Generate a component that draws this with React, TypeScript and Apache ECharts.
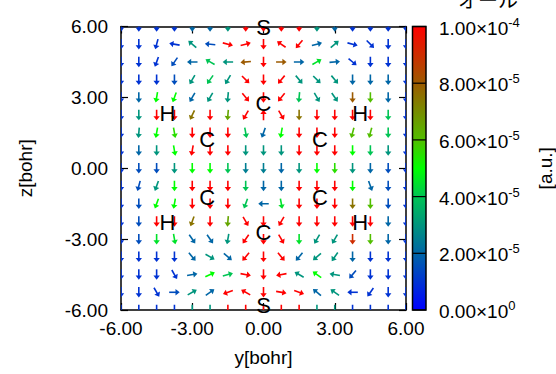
import React, { useEffect, useRef } from "react";
import * as echarts from "echarts";

// grid sample coordinates (bohr)
const yCoords = [-6, -5.25, -4.5, -3.75, -3, -2.25, -1.5, -0.75, 0, 0.75, 1.5, 2.25, 3, 3.75, 4.5, 5.25, 6];
const zCoords = [6, 5.25, 4.5, 3.75, 3, 2.25, 1.5, 0.75, 0, -0.75, -1.5, -2.25, -3, -3.75, -4.5, -5.25, -6];

// arrow direction in degrees (0 = +y, 90 = +z), rows top (z=6) to bottom (z=-6)
const angleRows = [
  [-90, -90, -90, -90, -90, -90, -90, -90, -90, -90, -90, -90, -90, -90, -90, -90, -90],
  [-90, -90, -105, 170, 140, 175, -15, 15, -90, 145, -130, 15, 40, -15, -45, -90, -90],
  [-90, -90, -110, -125, 180, 150, 180, -175, -90, 0, 0, 30, 5, -40, -90, -90, -90],
  [-90, -90, -90, -90, -120, -125, -120, -45, -90, -130, -50, -45, -50, -90, -90, -90, -90],
  [-90, -90, -100, -110, -120, -120, -95, -50, -90, -130, -95, -60, -55, -90, -90, -90, -90],
  [-90, -90, -90, -90, -115, -90, -95, -120, 90, -60, -90, -90, -90, -90, -90, -90, -90],
  [-90, -95, -100, -80, -90, -90, -90, -80, -110, -100, -90, -90, -90, -105, -105, -90, -90],
  [-90, -90, -90, -80, -100, -90, -90, -90, -90, -90, -90, -90, -90, -90, -90, -90, -90],
  [-90, -90, -90, -90, -90, -90, -90, -90, -90, -90, -90, -90, -90, -90, -90, -90, -90],
  [-90, -105, -110, -90, -90, -90, -90, -90, -90, -90, -90, -90, -90, -90, -70, -90, -90],
  [-90, -90, -110, -100, -90, -90, -90, -110, 180, -80, -90, -90, -90, -90, -90, -90, -90],
  [-90, -90, -90, -90, -110, -90, -95, -60, -90, -120, -90, -90, -90, -90, -90, -90, -90],
  [-90, -90, -90, -80, -55, -55, -100, -125, -90, -60, -90, -120, -120, -90, -90, -90, -90],
  [-90, -90, -90, -90, -50, -30, -40, -130, -90, -50, -130, -140, -125, -90, -90, -90, -90],
  [-90, -90, -90, -60, 10, 25, 15, -10, -90, -170, 150, 145, 170, -130, -90, -90, -90],
  [-90, -90, -60, 0, 30, 35, -160, 150, -90, -10, -20, 140, 145, 180, -125, -90, -90],
  [-90, -90, -90, -90, -90, -90, -90, -90, -90, -90, -90, -90, -90, -90, -90, -90, -90],
];

// magnitude in units of 1e-5 a.u., same layout
const magRows = [
  [1, 1, 1, 1, 2, 2, 3, 11, 11, 11, 11, 3, 2, 1, 1, 1, 1],
  [1, 1, 1, 1, 3, 1.5, 11, 11, 11, 11, 11, 2, 3, 1, 1, 1, 1],
  [1, 1, 1, 1.5, 2, 4, 3, 8, 11, 8, 2, 4.5, 2, 1, 1, 1, 1],
  [1, 1, 1, 1.5, 3, 4, 3, 11, 11, 11, 3, 3, 3, 2, 2, 2, 1],
  [1, 2, 5, 5, 2, 3, 3, 11, 11, 11, 4, 3, 3, 8, 6, 2, 1],
  [1, 3, 11, 11, 7.5, 11, 6.5, 11, 11, 11, 7.5, 11, 11, 11, 11, 4, 1],
  [1, 3, 5, 5.5, 11, 11, 11, 4, 2, 5, 11, 11, 11, 6, 6, 4, 1],
  [1, 2, 3, 5, 11, 11, 11, 3, 3, 3, 11, 11, 11, 5, 4, 3, 1],
  [1, 1.5, 1.5, 3, 5, 5, 4, 2.5, 2.5, 2, 3, 5, 5.5, 3, 2, 1.5, 1],
  [1, 1.5, 3, 5, 11, 11, 11, 4, 2, 2, 11, 11, 11, 5, 2, 1.5, 1],
  [1, 1.5, 5, 5, 11, 11, 11, 4, 2, 4.5, 11, 11, 11, 7.5, 6, 1.5, 1],
  [1, 1.5, 11, 11, 7.5, 11, 6.5, 11, 11, 11, 11, 11, 11, 11, 11, 2, 1],
  [1, 1.5, 4.5, 4.5, 2, 2, 3, 11, 11, 11, 4.5, 3, 3, 9, 6, 2, 1],
  [1, 1, 1, 1, 2, 3, 2, 11, 11, 11, 2, 3, 3, 2, 1, 1, 1],
  [1, 1, 1, 1, 2, 5, 4, 11, 11, 11, 3, 5, 3, 1.5, 1, 1, 1],
  [1, 1, 1, 1.5, 3, 2, 11, 11, 11, 11, 11, 2, 3, 1, 1, 1, 1],
  [1, 1, 1, 1, 3, 3, 11, 11, 11, 11, 11, 3, 3, 1, 1, 1, 1],
];

// atom labels
const atomNames = ["S", "S", "C", "C", "C", "C", "C", "C", "H", "H", "H", "H"];
const atomY = [0, 0, 0, 0, -2.37, 2.38, -2.37, 2.38, -4.05, 4.07, -4.05, 4.07];
const atomZ = [5.95, -5.8, 2.75, -2.7, 1.2, 1.2, -1.25, -1.25, 2.33, 2.33, -2.28, -2.28];

// colour bar
const cbMax = 1e-4;
const cbTicks = [0, 2e-5, 4e-5, 6e-5, 8e-5, 1e-4];
const cmapStops: [number, string][] = [
  [0, "#0000ff"],
  [0.2, "#0066a6"],
  [0.4, "#00c454"],
  [0.5, "#00ff00"],
  [0.6, "#52be00"],
  [0.8, "#9c5a00"],
  [1, "#ff0000"],
];

const FONT = "'Liberation Sans', Arial, Helvetica, sans-serif";

function hexToRgb(h: string) {
  return [parseInt(h.slice(1, 3), 16), parseInt(h.slice(3, 5), 16), parseInt(h.slice(5, 7), 16)];
}
function cmap(t: number) {
  t = Math.max(0, Math.min(1, t));
  for (let i = 1; i < cmapStops.length; i++) {
    const [t1, c1] = cmapStops[i];
    const [t0, c0] = cmapStops[i - 1];
    if (t <= t1) {
      const f = (t - t0) / (t1 - t0);
      const a = hexToRgb(c0), b = hexToRgb(c1);
      const r = a.map((v, k) => Math.round(v + (b[k] - v) * f));
      return `rgb(${r[0]},${r[1]},${r[2]})`;
    }
  }
  return cmapStops[cmapStops.length - 1][1];
}

export default function App() {
  const ref = useRef<HTMLDivElement>(null);
  useEffect(() => {
    if (!ref.current) return;
    const chart = echarts.init(ref.current, undefined, { renderer: "svg" });

    const arrowData: number[][] = [];
    zCoords.forEach((z, r) => {
      yCoords.forEach((y, c) => {
        arrowData.push([y, z, angleRows[r][c], magRows[r][c] * 1e-5]);
      });
    });
    const atomData = atomNames.map((n, i) => [atomY[i], atomZ[i], i]);

    const mainAxisCommon = {
      type: "value" as const,
      min: -6,
      max: 6,
      interval: 3,
      splitLine: { show: false },
      axisLine: { show: true, onZero: false, lineStyle: { color: "#000", width: 1.5 } },
      axisTick: { show: true, inside: true, length: 7, lineStyle: { color: "#000", width: 1.2 } },
    };

    const fmtSci = (v: number) => {
      const s = v.toExponential(2);
      const [m, e] = s.split("e");
      return `{m|${m}×10}{s|${parseInt(e, 10)}}`;
    };

    chart.setOption({
      animation: false,
      backgroundColor: "#fff",
      textStyle: { fontFamily: FONT },
      grid: [
        { left: 121, top: 26.5, width: 285, height: 283.5 },
        { left: 412.5, top: 26.5, width: 14.5, height: 283.5 },
      ],
      xAxis: [
        {
          ...mainAxisCommon,
          gridIndex: 0,
          position: "bottom",
          name: "y[bohr]",
          nameLocation: "middle",
          nameGap: 38,
          nameTextStyle: { fontSize: 19, color: "#000", fontFamily: FONT },
          axisLabel: { show: true, fontSize: 19, color: "#000", margin: 9, fontFamily: FONT, formatter: (v: number) => v.toFixed(2) },
        },
        {
          ...mainAxisCommon,
          gridIndex: 0,
          position: "top",
          axisLabel: { show: false },
        },
        { type: "value", gridIndex: 1, min: 0, max: 1, show: false },
      ],
      yAxis: [
        {
          ...mainAxisCommon,
          gridIndex: 0,
          position: "left",
          name: "z[bohr]",
          nameLocation: "middle",
          nameGap: 86,
          nameRotate: 90,
          nameTextStyle: { fontSize: 19, color: "#000", fontFamily: FONT },
          axisLabel: { show: true, fontSize: 19, color: "#000", margin: 13, fontFamily: FONT, formatter: (v: number) => v.toFixed(2) },
        },
        {
          ...mainAxisCommon,
          gridIndex: 0,
          position: "right",
          axisLabel: { show: false },
        },
        {
          type: "value",
          gridIndex: 1,
          min: 0,
          max: cbMax,
          interval: 2e-5,
          position: "right",
          axisLine: { show: false },
          axisTick: { show: false },
          splitLine: { show: false },
          name: "[a.u.]",
          nameLocation: "middle",
          nameRotate: 90,
          nameGap: 110,
          nameTextStyle: { fontSize: 19, color: "#000", fontFamily: FONT },
          axisLabel: {
            show: true,
            margin: 13,
            formatter: fmtSci,
            rich: {
              m: { fontSize: 19, color: "#000", fontFamily: FONT, lineHeight: 22, verticalAlign: "bottom" },
              s: { fontSize: 13, color: "#000", fontFamily: FONT, lineHeight: 13, verticalAlign: "top" },
            },
          },
        },
      ],
      graphic: [
        {
          type: "text",
          x: 488,
          y: -1,
          style: {
            text: "オール",
            fontSize: 20,
            fontFamily: "'Noto Sans CJK JP', sans-serif",
            fill: "#000",
            align: "center",
            verticalAlign: "middle",
          },
        },
      ],
      series: [
        {
          type: "custom",
          xAxisIndex: 0,
          yAxisIndex: 0,
          clip: true,
          silent: true,
          z: 2,
          data: arrowData,
          encode: { x: 0, y: 1 },
          renderItem: (params: any, api: any) => {
            const y = api.value(0), z = api.value(1), ang = api.value(2), mag = api.value(3);
            const c = api.coord([y, z]);
            const a = (ang * Math.PI) / 180;
            const dx = Math.cos(a), dy = -Math.sin(a);
            const L = 10.5, hl = 4.2, hw = 3.2;
            const tail = [c[0] - (dx * L) / 2, c[1] - (dy * L) / 2];
            const tip = [c[0] + (dx * L) / 2, c[1] + (dy * L) / 2];
            const base = [tip[0] - dx * hl, tip[1] - dy * hl];
            const nx = -dy, ny = dx;
            const color = cmap(mag / cbMax);
            return {
              type: "group",
              children: [
                { type: "line", shape: { x1: tail[0], y1: tail[1], x2: base[0] + dx, y2: base[1] + dy }, style: { stroke: color, lineWidth: 1.6 } },
                {
                  type: "polygon",
                  shape: { points: [tip, [base[0] + nx * hw, base[1] + ny * hw], [base[0] - nx * hw, base[1] - ny * hw]] },
                  style: { fill: color },
                },
              ],
            };
          },
        },
        {
          type: "custom",
          xAxisIndex: 0,
          yAxisIndex: 0,
          silent: true,
          z: 5,
          data: atomData,
          encode: { x: 0, y: 1 },
          renderItem: (params: any, api: any) => {
            const c = api.coord([api.value(0), api.value(1)]);
            return {
              type: "text",
              x: c[0],
              y: c[1],
              style: {
                text: atomNames[api.value(2)],
                fontSize: 22,
                fontFamily: FONT,
                fill: "#000",
                align: "center",
                verticalAlign: "middle",
              },
            };
          },
        },
        {
          type: "custom",
          xAxisIndex: 2,
          yAxisIndex: 2,
          silent: true,
          z: 3,
          data: cbTicks.map((v) => [0.5, v]),
          encode: { x: 0, y: 1 },
          renderItem: (params: any, api: any) => {
            const v = api.value(1);
            const p0 = api.coord([0, v]);
            const p1 = api.coord([1, v]);
            const children: any[] = [];
            if (params.dataIndex === 0) {
              const bl = api.coord([0, 0]);
              const tr = api.coord([1, cbMax]);
              children.push({
                type: "rect",
                shape: { x: bl[0], y: tr[1], width: tr[0] - bl[0], height: bl[1] - tr[1] },
                style: {
                  fill: new echarts.graphic.LinearGradient(0, 1, 0, 0, cmapStops.map(([o, c]) => ({ offset: o, color: c }))),
                },
              });
              children.push({
                type: "rect",
                z2: 10,
                shape: { x: bl[0], y: tr[1], width: tr[0] - bl[0], height: bl[1] - tr[1] },
                style: { fill: "none", stroke: "#000", lineWidth: 1.5 },
              });
            }
            children.push({
              type: "line",
              z2: 5,
              shape: { x1: p0[0], y1: p0[1], x2: p1[0], y2: p1[1] },
              style: { stroke: "#000", lineWidth: 1.2 },
            });
            return { type: "group", children };
          },
        },
      ],
    });
    return () => chart.dispose();
  }, []);
  return <div ref={ref} style={{ position: "fixed", left: 0, top: 0, width: 556, height: 374 }} />;
}
